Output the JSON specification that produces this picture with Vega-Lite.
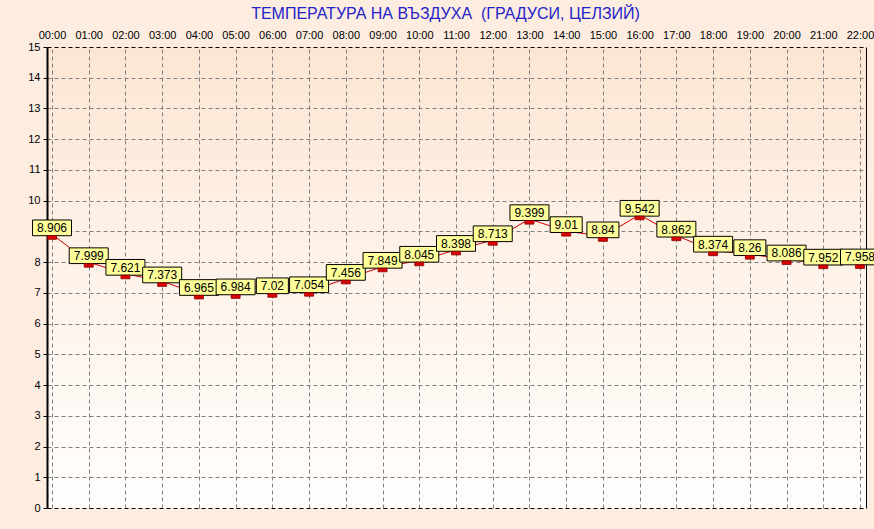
{
  "$schema": "https://vega.github.io/schema/vega-lite/v6.json",
  "width": 819,
  "height": 461,
  "autosize": {"type": "none"},
  "padding": {"left": 47, "top": 47, "right": 8, "bottom": 21},
  "background": "#fdece0",
  "config": {
    "font": "Liberation Sans",
    "view": {
      "stroke": null,
      "fill": {"expr": "{gradient:'linear',x1:0,y1:0,x2:0,y2:1,stops:[{offset:0,color:'#fce6d3'},{offset:0.5,color:'#fef3ea'},{offset:1,color:'#fffefd'}]}"}
    }
  },
  "title": {
    "text": "ТЕМПЕРАТУРА НА ВЪЗДУХА\u00a0 (ГРАДУСИ, ЦЕЛЗИЙ)",
    "color": "#2323c8",
    "fontSize": 16,
    "fontWeight": "normal",
    "font": "Liberation Sans",
    "anchor": "middle",
    "dx": -11,
    "offset": 7
  },
  "data": {
    "values": [
      {"h": 0, "t": 8.906}, {"h": 1, "t": 7.999}, {"h": 2, "t": 7.621},
      {"h": 3, "t": 7.373}, {"h": 4, "t": 6.965}, {"h": 5, "t": 6.984},
      {"h": 6, "t": 7.02}, {"h": 7, "t": 7.054}, {"h": 8, "t": 7.456},
      {"h": 9, "t": 7.849}, {"h": 10, "t": 8.045}, {"h": 11, "t": 8.398},
      {"h": 12, "t": 8.713}, {"h": 13, "t": 9.399}, {"h": 14, "t": 9.01},
      {"h": 15, "t": 8.84}, {"h": 16, "t": 9.542}, {"h": 17, "t": 8.862},
      {"h": 18, "t": 8.374}, {"h": 19, "t": 8.26}, {"h": 20, "t": 8.086},
      {"h": 21, "t": 7.952}, {"h": 22, "t": 7.958}
    ]
  },
  "encoding": {
    "x": {
      "field": "h",
      "type": "quantitative",
      "scale": {"domain": [-0.136, 22.163], "nice": false, "zero": false},
      "axis": {
        "orient": "top",
        "title": null,
        "values": [0,1,2,3,4,5,6,7,8,9,10,11,12,13,14,15,16,17,18,19,20,21,22],
        "labelExpr": "(datum.value < 10 ? '0' : '') + datum.value + ':00'",
        "labelFontSize": 11,
        "labelColor": "#000000",
        "labelFont": "Liberation Sans",
        "labelPadding": 7,
        "labelFlush": false,
        "labelOverlap": false,
        "ticks": false,
        "tickSize": 0,
        "domain": false,
        "grid": true,
        "gridColor": "#808080",
        "gridDash": [4, 3],
        "gridWidth": 1
      }
    }
  },
  "layer": [
    {
      "mark": {"type": "line", "color": "#cc0000", "strokeWidth": 1},
      "encoding": {
        "y": {
          "field": "t",
          "type": "quantitative",
          "scale": {"domain": [0, 15], "nice": false, "zero": false},
          "axis": {
            "orient": "left",
            "title": null,
            "values": [0,1,2,3,4,5,6,7,8,9,10,11,12,13,14,15],
            "labelExpr": "datum.value === 9 ? '' : datum.label",
            "labelFontSize": 11,
            "labelColor": "#000000",
            "labelFont": "Liberation Sans",
            "labelPadding": 3,
            "labelFlush": false,
            "labelOverlap": false,
            "tickColor": "#000000",
            "tickSize": 4,
            "domain": true,
            "domainColor": "#000000",
            "domainWidth": 2,
            "grid": true,
            "gridColor": {"condition": {"test": "datum.value === 0 || datum.value === 15", "value": "#000000"}, "value": "#808080"},
            "gridDash": [4, 3],
            "gridWidth": 1
          }
        }
      }
    },
    {
      "encoding": {
        "y": {
          "field": "t",
          "type": "quantitative",
          "scale": {"domain": [0, 15], "nice": false, "zero": false},
          "axis": {
            "orient": "right",
            "title": null,
            "labels": false,
            "ticks": false,
            "grid": false,
            "domain": true,
            "domainColor": "#000000",
            "domainWidth": 1
          }
        }
      },
      "layer": [
        {
          "mark": {"type": "point", "filled": true, "fill": "#ffff99", "stroke": "#000000", "strokeWidth": 1, "size": 400, "opacity": 1},
          "encoding": {
            "shape": {
              "condition": {"test": "length(toString(datum.t)) < 5", "value": "M-1.6,-1.43H1.6V0.14H-1.6Z"},
              "value": "M-1.95,-1.43H1.95V0.14H-1.95Z"
            }
          }
        },
        {
          "mark": {"type": "text", "fontSize": 12, "font": "Liberation Sans", "color": "#000000", "baseline": "middle", "align": "center", "dy": -6},
          "encoding": {
            "text": {"field": "t", "type": "nominal"}
          }
        },
        {
          "mark": {"type": "point", "filled": true, "fill": "#dd0000", "stroke": "#880000", "strokeWidth": 0.8, "size": 100, "opacity": 1, "shape": "M-0.9,0.28H0.9V1H-0.9Z"},
          "encoding": {}
        }
      ]
    }
  ],
  "resolve": {"axis": {"y": "independent"}}
}
